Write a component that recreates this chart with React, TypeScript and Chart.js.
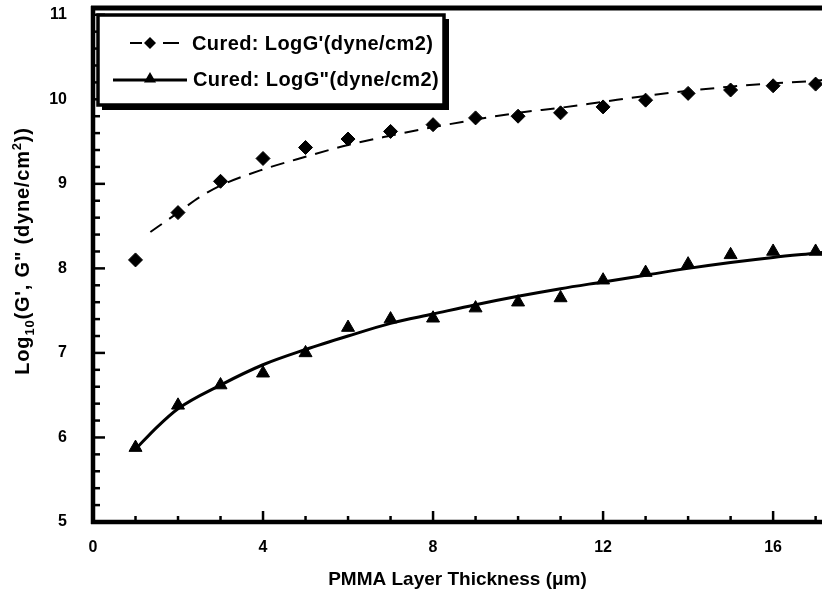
import React, { useEffect, useRef } from 'react';
import { Chart, registerables } from 'chart.js';

Chart.register(...registerables);

// ---- data ----
const thickness = [1, 2, 3, 4, 5, 6, 7, 8, 9, 10, 11, 12, 13, 14, 15, 16, 17];
const logGPrime = [8.1, 8.66, 9.03, 9.3, 9.43, 9.53, 9.62, 9.7, 9.78, 9.8, 9.84, 9.91, 9.99, 10.07, 10.11, 10.16, 10.18];
const logGDouble = [5.88, 6.38, 6.62, 6.76, 7.0, 7.3, 7.4, 7.41, 7.53, 7.6, 7.65, 7.86, 7.95, 8.05, 8.16, 8.2, 8.2];
const fitPrimeX = [1.35, 2, 2.5, 3, 4, 5, 6, 7, 8, 9, 10, 11, 12, 13, 14, 15, 16, 17, 17.2];
const fitPrimeY = [8.43, 8.66, 8.84, 8.98, 9.17, 9.32, 9.46, 9.57, 9.67, 9.76, 9.84, 9.9, 9.97, 10.04, 10.1, 10.15, 10.19, 10.22, 10.23];
const fitDoubleX = [1, 1.5, 2, 3, 4, 5, 6, 7, 8, 9, 10, 11, 12, 13, 14, 15, 16, 17, 17.2];
const fitDoubleY = [5.86, 6.12, 6.34, 6.62, 6.86, 7.04, 7.2, 7.35, 7.46, 7.57, 7.67, 7.76, 7.84, 7.92, 8.0, 8.07, 8.13, 8.18, 8.19];
const xTickValues = [0, 4, 8, 12, 16];
const xMinorTicks = [1, 2, 3, 5, 6, 7, 9, 10, 11, 13, 14, 15, 17];
const yTickValues = [5, 6, 7, 8, 9, 10, 11];
const yMinorTicks = [
  5.2, 5.4, 5.6, 5.8, 6.2, 6.4, 6.6, 6.8, 7.2, 7.4, 7.6, 7.8,
  8.2, 8.4, 8.6, 8.8, 9.2, 9.4, 9.6, 9.8, 10.2, 10.4, 10.6, 10.8,
];
const seriesLabels = ["Cured: LogG'(dyne/cm2)", 'Cured: LogG"(dyne/cm2)'];
const xTitle = 'PMMA Layer Thickness (\u03bcm)';

const FONT = "'Liberation Sans', Arial, Helvetica, sans-serif";

function drawDiamond(ctx: CanvasRenderingContext2D, x: number, y: number, r: number) {
  ctx.beginPath();
  ctx.moveTo(x, y - r);
  ctx.lineTo(x + r, y);
  ctx.lineTo(x, y + r);
  ctx.lineTo(x - r, y);
  ctx.closePath();
  ctx.fill();
}
function drawTriangle(ctx: CanvasRenderingContext2D, x: number, y: number, r: number) {
  ctx.beginPath();
  ctx.moveTo(x, y - r);
  ctx.lineTo(x + r * 0.866, y + r * 0.5);
  ctx.lineTo(x - r * 0.866, y + r * 0.5);
  ctx.closePath();
  ctx.fill();
}

const framePlugin = {
  id: 'frame',
  afterDatasetsDraw(chart: any) {
    const { ctx, chartArea: ca, scales } = chart;
    const xs = scales.x;
    const ys = scales.y;
    ctx.save();
    ctx.strokeStyle = '#000';
    ctx.fillStyle = '#000';
    ctx.lineCap = 'butt';
    // axes lines
    ctx.lineWidth = 4.5;
    ctx.beginPath();
    ctx.moveTo(ca.left, ca.top - 2);
    ctx.lineTo(ca.left, ca.bottom + 2);
    ctx.stroke();
    ctx.beginPath();
    ctx.moveTo(ca.left - 2, ca.bottom);
    ctx.lineTo(ca.right, ca.bottom);
    ctx.stroke();
    ctx.lineWidth = 5;
    ctx.beginPath();
    ctx.moveTo(ca.left - 2, ca.top);
    ctx.lineTo(ca.right, ca.top);
    ctx.stroke();
    // inward ticks
    ctx.lineWidth = 2.5;
    yTickValues.forEach((v) => {
      const py = ys.getPixelForValue(v);
      ctx.beginPath();
      ctx.moveTo(ca.left, py);
      ctx.lineTo(ca.left + 12, py);
      ctx.stroke();
    });
    yMinorTicks.forEach((v) => {
      const py = ys.getPixelForValue(v);
      ctx.beginPath();
      ctx.moveTo(ca.left, py);
      ctx.lineTo(ca.left + 7, py);
      ctx.stroke();
    });
    xTickValues.forEach((v) => {
      const px = xs.getPixelForValue(v);
      ctx.beginPath();
      ctx.moveTo(px, ca.bottom);
      ctx.lineTo(px, ca.bottom - 11);
      ctx.stroke();
    });
    xMinorTicks.forEach((v) => {
      const px = xs.getPixelForValue(v);
      ctx.beginPath();
      ctx.moveTo(px, ca.bottom);
      ctx.lineTo(px, ca.bottom - 6);
      ctx.stroke();
    });

    // legend box
    const bx = 98, by = 15, bw = 346, bh = 90;
    ctx.fillStyle = '#fff';
    ctx.fillRect(bx, by, bw, bh);
    ctx.fillStyle = '#000';
    ctx.fillRect(bx + 4, by + bh, bw, 5);
    ctx.fillRect(bx + bw, by + 4, 5, bh + 1);
    ctx.lineWidth = 3.5;
    ctx.strokeRect(bx, by, bw, bh);

    const d0 = chart.data.datasets[0];
    const d2 = chart.data.datasets[2];
    // row 1 : "-◆ —"
    ctx.lineWidth = d0.borderWidth;
    ctx.beginPath();
    ctx.moveTo(130, 43);
    ctx.lineTo(142, 43);
    ctx.moveTo(163, 43);
    ctx.lineTo(179, 43);
    ctx.stroke();
    drawDiamond(ctx, 150, 43, 6);
    // row 2
    ctx.lineWidth = d2.borderWidth;
    ctx.beginPath();
    ctx.moveTo(113, 80);
    ctx.lineTo(187, 80);
    ctx.stroke();
    drawTriangle(ctx, 150, 79, 7);

    ctx.font = `bold 20px ${FONT}`;
    (ctx as any).letterSpacing = '0.4px';
    ctx.textBaseline = 'middle';
    ctx.textAlign = 'left';
    ctx.fillText(seriesLabels[0], 192, 44);
    ctx.fillText(seriesLabels[1], 193, 80);
    (ctx as any).letterSpacing = '0px';

    // rotated y-axis title with subscript / superscript
    ctx.translate(22, 251);
    ctx.rotate(-Math.PI / 2);
    const parts: [string, 'n' | 'sub' | 'sup'][] = [
      ['Log', 'n'],
      ['10', 'sub'],
      ['(G\', G" (dyne/cm', 'n'],
      ['2', 'sup'],
      ['))', 'n'],
    ];
    (ctx as any).letterSpacing = '0.8px';
    const big = `bold 20px ${FONT}`;
    const small = `bold 13px ${FONT}`;
    let total = 0;
    parts.forEach(([t, k]) => {
      ctx.font = k === 'n' ? big : small;
      total += ctx.measureText(t).width;
    });
    let cx = -total / 2;
    ctx.textBaseline = 'alphabetic';
    parts.forEach(([t, k]) => {
      ctx.font = k === 'n' ? big : small;
      const dy = k === 'sub' ? 5 : k === 'sup' ? -8 : 0;
      ctx.fillText(t, cx, 7 + dy);
      cx += ctx.measureText(t).width;
    });
    ctx.restore();
  },
};

export default function App() {
  const ref = useRef<HTMLCanvasElement | null>(null);
  useEffect(() => {
    document.body.style.margin = '0';
    document.body.style.overflow = 'hidden';
    const canvas = ref.current;
    if (!canvas) return;
    const chart = new Chart(canvas, {
      type: 'scatter',
      data: {
        datasets: [
          {
            label: seriesLabels[0] + ' fit',
            data: fitPrimeX.map((x, i) => ({ x, y: fitPrimeY[i] })),
            showLine: true,
            borderColor: '#000',
            borderWidth: 2,
            borderDash: [14, 9],
            pointRadius: 0,
            cubicInterpolationMode: 'monotone',
            fill: false,
          },
          {
            label: seriesLabels[0],
            data: thickness.map((x, i) => ({ x, y: logGPrime[i] })),
            pointStyle: 'rectRot',
            pointRadius: 7,
            pointBorderWidth: 1,
            backgroundColor: '#000',
            borderColor: '#000',
            showLine: false,
          },
          {
            label: seriesLabels[1] + ' fit',
            data: fitDoubleX.map((x, i) => ({ x, y: fitDoubleY[i] })),
            showLine: true,
            borderColor: '#000',
            borderWidth: 3,
            pointRadius: 0,
            cubicInterpolationMode: 'monotone',
            fill: false,
          },
          {
            label: seriesLabels[1],
            data: thickness.map((x, i) => ({ x, y: logGDouble[i] })),
            pointStyle: 'triangle',
            pointRadius: 7.5,
            pointBorderWidth: 1,
            backgroundColor: '#000',
            borderColor: '#000',
            showLine: false,
          },
        ],
      } as any,
      options: {
        responsive: false,
        animation: false,
        devicePixelRatio: 1,
        layout: { autoPadding: false, padding: { top: 8, left: 0, right: 0, bottom: 0 } },
        plugins: { legend: { display: false }, tooltip: { enabled: false } },
        scales: {
          x: {
            type: 'linear',
            min: 0,
            max: 17.15,
            grid: { display: false, drawTicks: false },
            border: { display: false },
            afterBuildTicks: (s: any) => {
              s.ticks = xTickValues.map((value) => ({ value }));
            },
            afterFit: (s: any) => {
              s.height = 74;
              s.paddingLeft = 0;
              s.paddingRight = 0;
              s.paddingTop = 0;
              s.paddingBottom = 0;
            },
            ticks: {
              color: '#000',
              font: { family: FONT, size: 16, weight: 'bold' },
              padding: 16,
              maxRotation: 0,
              autoSkip: false,
            },
            title: {
              display: true,
              text: xTitle,
              color: '#000',
              font: { family: FONT, size: 19, weight: 'bold' },
              padding: { top: 0, bottom: 5 },
            },
          },
          y: {
            type: 'linear',
            min: 5,
            max: 11.08,
            grid: { display: false, drawTicks: false },
            border: { display: false },
            afterBuildTicks: (s: any) => {
              s.ticks = yTickValues.map((value) => ({ value }));
            },
            afterFit: (s: any) => {
              s.width = 93;
              s.paddingLeft = 0;
              s.paddingRight = 0;
              s.paddingTop = 0;
              s.paddingBottom = 0;
            },
            ticks: {
              color: '#000',
              font: { family: FONT, size: 16, weight: 'bold' },
              padding: 26,
              autoSkip: false,
            },
          },
        },
      } as any,
      plugins: [framePlugin],
    });
    return () => chart.destroy();
  }, []);
  return (
    <div style={{ width: 822, height: 596, position: 'relative', background: '#fff' }}>
      <canvas ref={ref} width={822} height={596} style={{ display: 'block' }} />
    </div>
  );
}
